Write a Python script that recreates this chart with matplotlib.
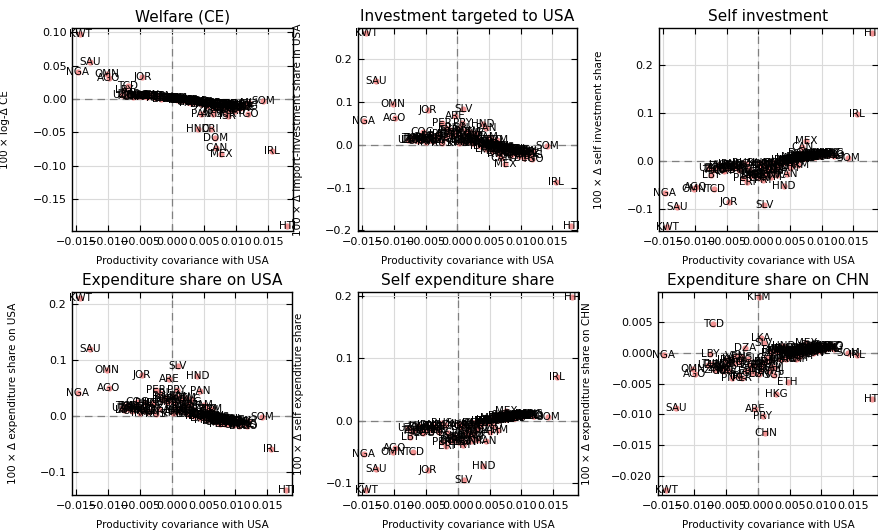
import matplotlib
matplotlib.use("Agg")
import matplotlib.pyplot as plt
from matplotlib.ticker import FuncFormatter


# country codes
countries = [
    'KWT', 'NGA', 'SAU', 'OMN', 'AGO', 'JOR', 'TCD', 'LBY', 'SLV', 'ARE',
    'HND', 'PER', 'PRY', 'COG', 'SOM', 'TGO', 'ISR', 'PAN', 'ARM', 'CRI',
    'DOM', 'CAN', 'MEX', 'IRL', 'HTI', 'KHM', 'LKA', 'ETH', 'HKG', 'CHN',
    'SGP', 'ERI',
    'UZB', 'ZMB', 'ZWE', 'TUN', 'UKR', 'DZA', 'MNG', 'PNG', 'GHA', 'BOL',
    'ECU', 'VEN', 'IRN', 'RUS', 'QAT', 'BHR', 'EGY', 'GTM', 'NIC', 'COL',
    'BRA', 'ARG', 'CHL', 'URY', 'JAM', 'TTO', 'PHL', 'VNM', 'THA', 'MYS',
    'IDN', 'IND', 'PAK', 'BGD', 'KOR', 'JPN', 'TWN', 'AUS', 'NZL', 'GBR',
    'DEU', 'FRA', 'ITA', 'ESP', 'NLD', 'BEL', 'CHE', 'AUT', 'SWE', 'NOR',
    'DNK', 'FIN', 'POL', 'CZE', 'HUN', 'PRT', 'GRC', 'TUR', 'ZAF', 'MAR',
    'KEN', 'SEN', 'CIV', 'CMR', 'MOZ', 'MDG', 'NPL', 'MLI', 'BEN', 'GAB',
    'SUR', 'UGA', 'TZA', 'RWA', 'MMR', 'LAO', 'SDN', 'YEM', 'SYR', 'LBN',
    'IRQ', 'KAZ', 'AZE', 'TKM', 'BWA', 'NAM',
]

# productivity covariance with USA (x of every panel)
cov_usa = [
    -0.0144, -0.0148, -0.0129, -0.0102, -0.0099, -0.0047, -0.0070, -0.0075, 0.0009, -0.0004,
    0.0040, -0.0025, 0.0008, -0.0055, 0.0142, 0.0118, 0.0087, 0.0045, 0.0063, 0.0060,
    0.0067, 0.0069, 0.0076, 0.0156, 0.0180, 0.0002, 0.0005, 0.0047, 0.0029, 0.0012,
    0.0025, -0.0018,
    -0.0078, -0.0068, -0.0060, -0.0072, -0.0062, -0.0020, -0.0045, -0.0040, -0.0008, -0.0030,
    -0.0015, -0.0035, -0.0050, -0.0025, -0.0055, -0.0010, 0.0005, 0.0020, 0.0030, 0.0015,
    0.0010, 0.0005, 0.0025, 0.0035, 0.0050, 0.0055, 0.0030, 0.0040, 0.0045, 0.0050,
    0.0035, 0.0042, 0.0020, 0.0025, 0.0060, 0.0065, 0.0070, 0.0075, 0.0080, 0.0085,
    0.0090, 0.0088, 0.0078, 0.0072, 0.0095, 0.0100, 0.0098, 0.0092, 0.0082, 0.0105,
    0.0108, 0.0102, 0.0068, 0.0074, 0.0086, 0.0062, 0.0058, 0.0052, 0.0048, 0.0038,
    0.0065, 0.0075, 0.0082, 0.0090, 0.0110, 0.0115, 0.0112, 0.0120, 0.0106, 0.0098,
    0.0084, 0.0078, 0.0070, 0.0066, 0.0055, 0.0045, 0.0012, -0.0005, -0.0012, 0.0002,
    -0.0030, -0.0040, -0.0048, -0.0038, 0.0018, 0.0022,
]

# 100 x log-change of consumption equivalent welfare
welfare = [
    0.098, 0.040, 0.055, 0.0375, 0.032, 0.033, 0.020, 0.013, 0.002, 0.002,
    -0.045, 0.004, -0.002, 0.006, -0.0025, -0.0225, -0.025, -0.022, -0.022, -0.045,
    -0.058, -0.073, -0.083, -0.078, -0.190, 0.000, 0.000, -0.005, -0.006, -0.002,
    -0.005, 0.000,
    0.006, 0.007, 0.005, 0.004, 0.003, 0.004, 0.005, 0.003, 0.002, 0.004,
    0.003, 0.006, 0.004, 0.002, 0.005, 0.001, 0.001, -0.002, -0.004, -0.001,
    0.000, 0.001, -0.002, -0.003, -0.008, -0.010, -0.003, -0.004, -0.005, -0.006,
    -0.004, -0.005, -0.002, -0.003, -0.006, -0.007, -0.008, -0.007, -0.009, -0.008,
    -0.009, -0.010, -0.008, -0.009, -0.010, -0.011, -0.009, -0.010, -0.008, -0.011,
    -0.012, -0.010, -0.007, -0.008, -0.009, -0.007, -0.006, -0.006, -0.004, -0.003,
    -0.016, -0.014, -0.015, -0.016, -0.012, -0.011, -0.008, -0.006, -0.014, -0.018,
    -0.022, -0.013, -0.012, -0.011, -0.009, -0.008, -0.001, 0.001, 0.002, 0.000,
    0.004, 0.004, 0.005, 0.004, -0.002, -0.002,
]

# 100 x change in import-investment share in USA
inv_usa = [
    0.261, 0.055, 0.148, 0.096, 0.0625, 0.082, 0.016, 0.010, 0.084, 0.066,
    0.049, 0.050, 0.050, 0.029, -0.004, -0.034, -0.020, 0.038, 0.010, -0.010,
    -0.020, -0.030, -0.045, -0.088, -0.190, 0.005, 0.010, 0.002, 0.020, 0.010,
    0.020, 0.040,
    0.012, 0.010, 0.014, 0.016, 0.008, 0.015, 0.012, 0.020, 0.022, 0.018,
    0.025, 0.010, 0.006, 0.004, 0.018, 0.030, 0.020, 0.030, 0.028, 0.025,
    0.006, 0.008, 0.005, 0.012, 0.018, 0.010, 0.015, 0.004, 0.002, 0.000,
    -0.002, -0.001, 0.006, 0.004, -0.004, -0.006, -0.008, -0.005, -0.010, -0.012,
    -0.010, -0.014, -0.008, -0.009, -0.015, -0.016, -0.012, -0.013, -0.011, -0.018,
    -0.017, -0.014, -0.006, -0.007, -0.009, -0.004, -0.003, -0.002, 0.002, 0.006,
    -0.002, -0.010, -0.018, -0.020, -0.022, -0.024, -0.020, -0.015, -0.030, -0.026,
    -0.024, -0.016, -0.012, -0.022, -0.014, -0.010, 0.032, 0.028, 0.034, 0.038,
    0.024, 0.010, 0.014, 0.008, 0.012, 0.018,
]

# 100 x change in self investment share
self_inv = [
    -0.138, -0.068, -0.096, -0.059, -0.054, -0.087, -0.059, -0.029, -0.092, -0.030,
    -0.052, -0.036, -0.040, -0.020, 0.006, 0.012, 0.010, -0.028, -0.010, 0.010,
    0.015, 0.028, 0.042, 0.098, 0.266, -0.005, -0.010, -0.003, -0.015, -0.020,
    -0.020, -0.045,
    -0.016, -0.018, -0.012, -0.020, -0.010, -0.008, -0.014, -0.016, -0.025, -0.020,
    -0.018, -0.012, -0.008, -0.004, -0.022, -0.028, -0.030, -0.035, -0.030, -0.018,
    -0.006, -0.010, -0.004, -0.008, -0.015, -0.006, -0.012, -0.002, 0.000, 0.002,
    0.001, 0.000, -0.008, -0.004, 0.004, 0.006, 0.008, 0.005, 0.008, 0.010,
    0.008, 0.010, 0.007, 0.006, 0.012, 0.013, 0.010, 0.011, 0.009, 0.014,
    0.013, 0.011, 0.005, 0.006, 0.008, 0.004, 0.003, 0.002, 0.000, -0.004,
    0.003, 0.007, 0.012, 0.013, 0.015, 0.016, 0.012, 0.010, 0.014, 0.016,
    0.014, 0.010, 0.008, 0.012, 0.008, 0.006, -0.030, -0.024, -0.032, -0.036,
    -0.015, -0.012, -0.016, -0.009, -0.014, -0.022,
]

# 100 x change in expenditure share on USA
exp_usa = [
    0.2116, 0.041, 0.1195, 0.082, 0.050, 0.073, 0.018, 0.010, 0.089, 0.066,
    0.072, 0.046, 0.047, 0.025, -0.003, -0.018, -0.010, 0.045, 0.012, 0.010,
    -0.010, -0.012, -0.015, -0.060, -0.132, 0.005, 0.010, 0.005, 0.025, 0.012,
    0.020, 0.040,
    0.014, 0.012, 0.016, 0.018, 0.009, 0.012, 0.010, 0.022, 0.025, 0.020,
    0.028, 0.008, 0.005, 0.004, 0.016, 0.032, 0.022, 0.032, 0.030, 0.028,
    0.008, 0.006, 0.004, 0.010, 0.020, 0.012, 0.014, 0.004, 0.002, 0.001,
    -0.001, 0.000, 0.006, 0.004, -0.002, -0.004, -0.005, -0.003, -0.006, -0.008,
    -0.006, -0.009, -0.005, -0.006, -0.010, -0.011, -0.008, -0.009, -0.007, -0.012,
    -0.011, -0.009, -0.004, -0.004, -0.006, -0.002, -0.001, -0.001, 0.002, 0.006,
    0.000, -0.008, -0.012, -0.014, -0.015, -0.016, -0.014, -0.010, -0.018, -0.016,
    -0.014, -0.012, -0.010, -0.010, -0.008, -0.004, 0.034, 0.026, 0.030, 0.035,
    0.022, 0.009, 0.012, 0.006, 0.015, 0.020,
]

# 100 x change in self expenditure share
self_exp = [
    -0.111, -0.053, -0.077, -0.050, -0.043, -0.079, -0.050, -0.026, -0.095, -0.030,
    -0.073, -0.034, -0.038, -0.020, 0.0064, 0.008, 0.005, -0.032, -0.015, 0.002,
    0.004, 0.010, 0.015, 0.0705, 0.198, -0.005, -0.010, -0.004, -0.015, -0.018,
    -0.020, -0.040,
    -0.012, -0.014, -0.010, -0.016, -0.008, -0.006, -0.012, -0.015, -0.024, -0.018,
    -0.020, -0.010, -0.006, -0.004, -0.018, -0.030, -0.028, -0.032, -0.030, -0.022,
    -0.006, -0.008, -0.004, -0.008, -0.018, -0.008, -0.012, -0.003, -0.001, 0.000,
    0.000, 0.000, -0.006, -0.004, 0.002, 0.004, 0.005, 0.003, 0.005, 0.006,
    0.005, 0.007, 0.004, 0.004, 0.008, 0.008, 0.007, 0.007, 0.006, 0.009,
    0.009, 0.008, 0.003, 0.003, 0.005, 0.002, 0.001, 0.001, -0.001, -0.004,
    0.001, 0.005, 0.008, 0.009, 0.010, 0.011, 0.009, 0.008, 0.011, 0.010,
    0.009, 0.006, 0.006, 0.007, 0.004, 0.002, -0.034, -0.026, -0.032, -0.034,
    -0.014, -0.010, -0.014, -0.008, -0.016, -0.024,
]

# 100 x change in expenditure share on CHN
exp_chn = [
    -0.0223, -0.0003, -0.0090, -0.0026, -0.0035, -0.0018, 0.0048, -0.0002, 0.0016, -0.0091,
    0.0012, -0.0040, -0.0102, -0.0030, 0.0000, 0.0011, 0.0005, -0.0010, -0.0008, -0.0010,
    -0.0005, 0.0003, 0.0016, -0.0003, -0.0075, 0.0091, 0.0025, -0.0047, -0.0067, -0.0131,
    -0.0036, -0.0030,
    -0.0020, -0.0028, -0.0025, -0.0018, -0.0019, 0.0008, -0.0030, -0.0040, -0.0032, -0.0015,
    -0.0010, -0.0005, -0.0012, -0.0006, -0.0022, -0.0020, -0.0026, -0.0012, 0.0004, -0.0008,
    -0.0015, -0.0018, -0.0025, -0.0010, -0.0004, 0.0002, 0.0003, 0.0006, 0.0004, 0.0002,
    0.0007, 0.0008, 0.0000, 0.0005, 0.0003, 0.0005, 0.0008, 0.0006, 0.0010, 0.0004,
    0.0007, 0.0002, 0.0001, 0.0000, 0.0005, 0.0008, 0.0003, 0.0004, 0.0009, 0.0006,
    0.0010, 0.0007, -0.0001, 0.0002, 0.0000, 0.0001, -0.0001, -0.0004, -0.0003, -0.0009,
    0.0004, 0.0007, 0.0011, 0.0009, 0.0012, 0.0010, 0.0008, 0.0007, 0.0009, 0.0011,
    0.0013, 0.0005, 0.0006, 0.0003, 0.0004, 0.0001, -0.0015, -0.0020, -0.0026, -0.0034,
    -0.0038, -0.0010, -0.0028, -0.0016, -0.0030, -0.0022,
]

titles = ['Welfare (CE)', 'Investment targeted to USA', 'Self investment',
          'Expenditure share on USA', 'Self expenditure share', 'Expenditure share on CHN']
ylabels = ['100 × log-Δ CE', '100 × Δ import-investment share in USA',
           '100 × Δ self investment share', '100 × Δ expenditure share on USA',
           '100 × Δ self expenditure share', '100 × Δ expenditure share on CHN']
xticks = [-0.015, -0.010, -0.005, 0.000, 0.005, 0.010, 0.015]


def fmt(nd):
    return FuncFormatter(lambda v, p: ('%.*f' % (nd, v + 0.0)).replace('-', '\u2212'))


def main():
    series = [welfare, inv_usa, self_inv, exp_usa, self_exp, exp_chn]
    ylims = [(-0.198, 0.1065), (-0.2016, 0.2727), (-0.1468, 0.2768),
             (-0.1418, 0.2215), (-0.1187, 0.2059), (-0.02316, 0.00996)]
    yticks = [[-0.15, -0.10, -0.05, 0.00, 0.05, 0.10],
              [-0.2, -0.1, 0.0, 0.1, 0.2],
              [-0.1, 0.0, 0.1, 0.2],
              [-0.1, 0.0, 0.1, 0.2],
              [-0.1, 0.0, 0.1, 0.2],
              [-0.020, -0.015, -0.010, -0.005, 0.000, 0.005]]
    ydec = [2, 1, 1, 1, 1, 3]
    # axes boxes in pixels (left, top, right, bottom) on a 879x532 canvas
    boxes = [(72, 28, 293, 231), (358, 28, 577, 231), (659, 28, 878, 231),
             (72, 292, 292, 495), (358, 292, 578, 495), (658, 292, 878, 495)]
    ylab_x = [-0.28, -0.25, -0.25, -0.245, -0.245, -0.30]

    fig = plt.figure(figsize=(8.79, 5.32), dpi=100)
    W, H = 879, 532
    for k in range(6):
        l, t, r, b = boxes[k]
        ax = fig.add_axes([l / W, 1 - b / H, (r - l) / W, (b - t) / H])
        ys = series[k]
        ax.scatter(cov_usa, ys, s=20, color='#f08080', alpha=0.85,
                   linewidths=0, zorder=3)
        for name, x, y in zip(countries, cov_usa, ys):
            ax.text(x, y, name, fontsize=7.5, ha='center', va='center',
                    color='black', zorder=4, clip_on=False)
        ax.axvline(0, color='gray', ls=(0, (6, 4)), lw=0.9, zorder=1)
        ax.axhline(0, color='gray', ls=(0, (6, 4)), lw=0.9, zorder=1)

        ax.set_xlim(-0.0157, 0.0189)
        ax.set_ylim(*ylims[k])
        ax.set_xticks(xticks)
        ax.set_yticks(yticks[k])
        ax.xaxis.set_major_formatter(fmt(3))
        ax.yaxis.set_major_formatter(fmt(ydec[k]))
        ax.tick_params(direction='in', top=True, right=True, length=4,
                       width=0.8, labelsize=8, pad=4)
        ax.grid(True, color='#dadada', lw=0.8)
        ax.set_axisbelow(True)
        for s in ax.spines.values():
            s.set_linewidth(1.0)

        ax.set_title(titles[k], fontsize=11, pad=5)
        ax.set_xlabel('Productivity covariance with USA', fontsize=7.5)
        ax.xaxis.set_label_coords(0.5, -0.125)
        ax.set_ylabel(ylabels[k], fontsize=7.5)
        ax.yaxis.set_label_coords(ylab_x[k], 0.5)

    plt.savefig('out.png', dpi=100)


if __name__ == '__main__':
    main()
